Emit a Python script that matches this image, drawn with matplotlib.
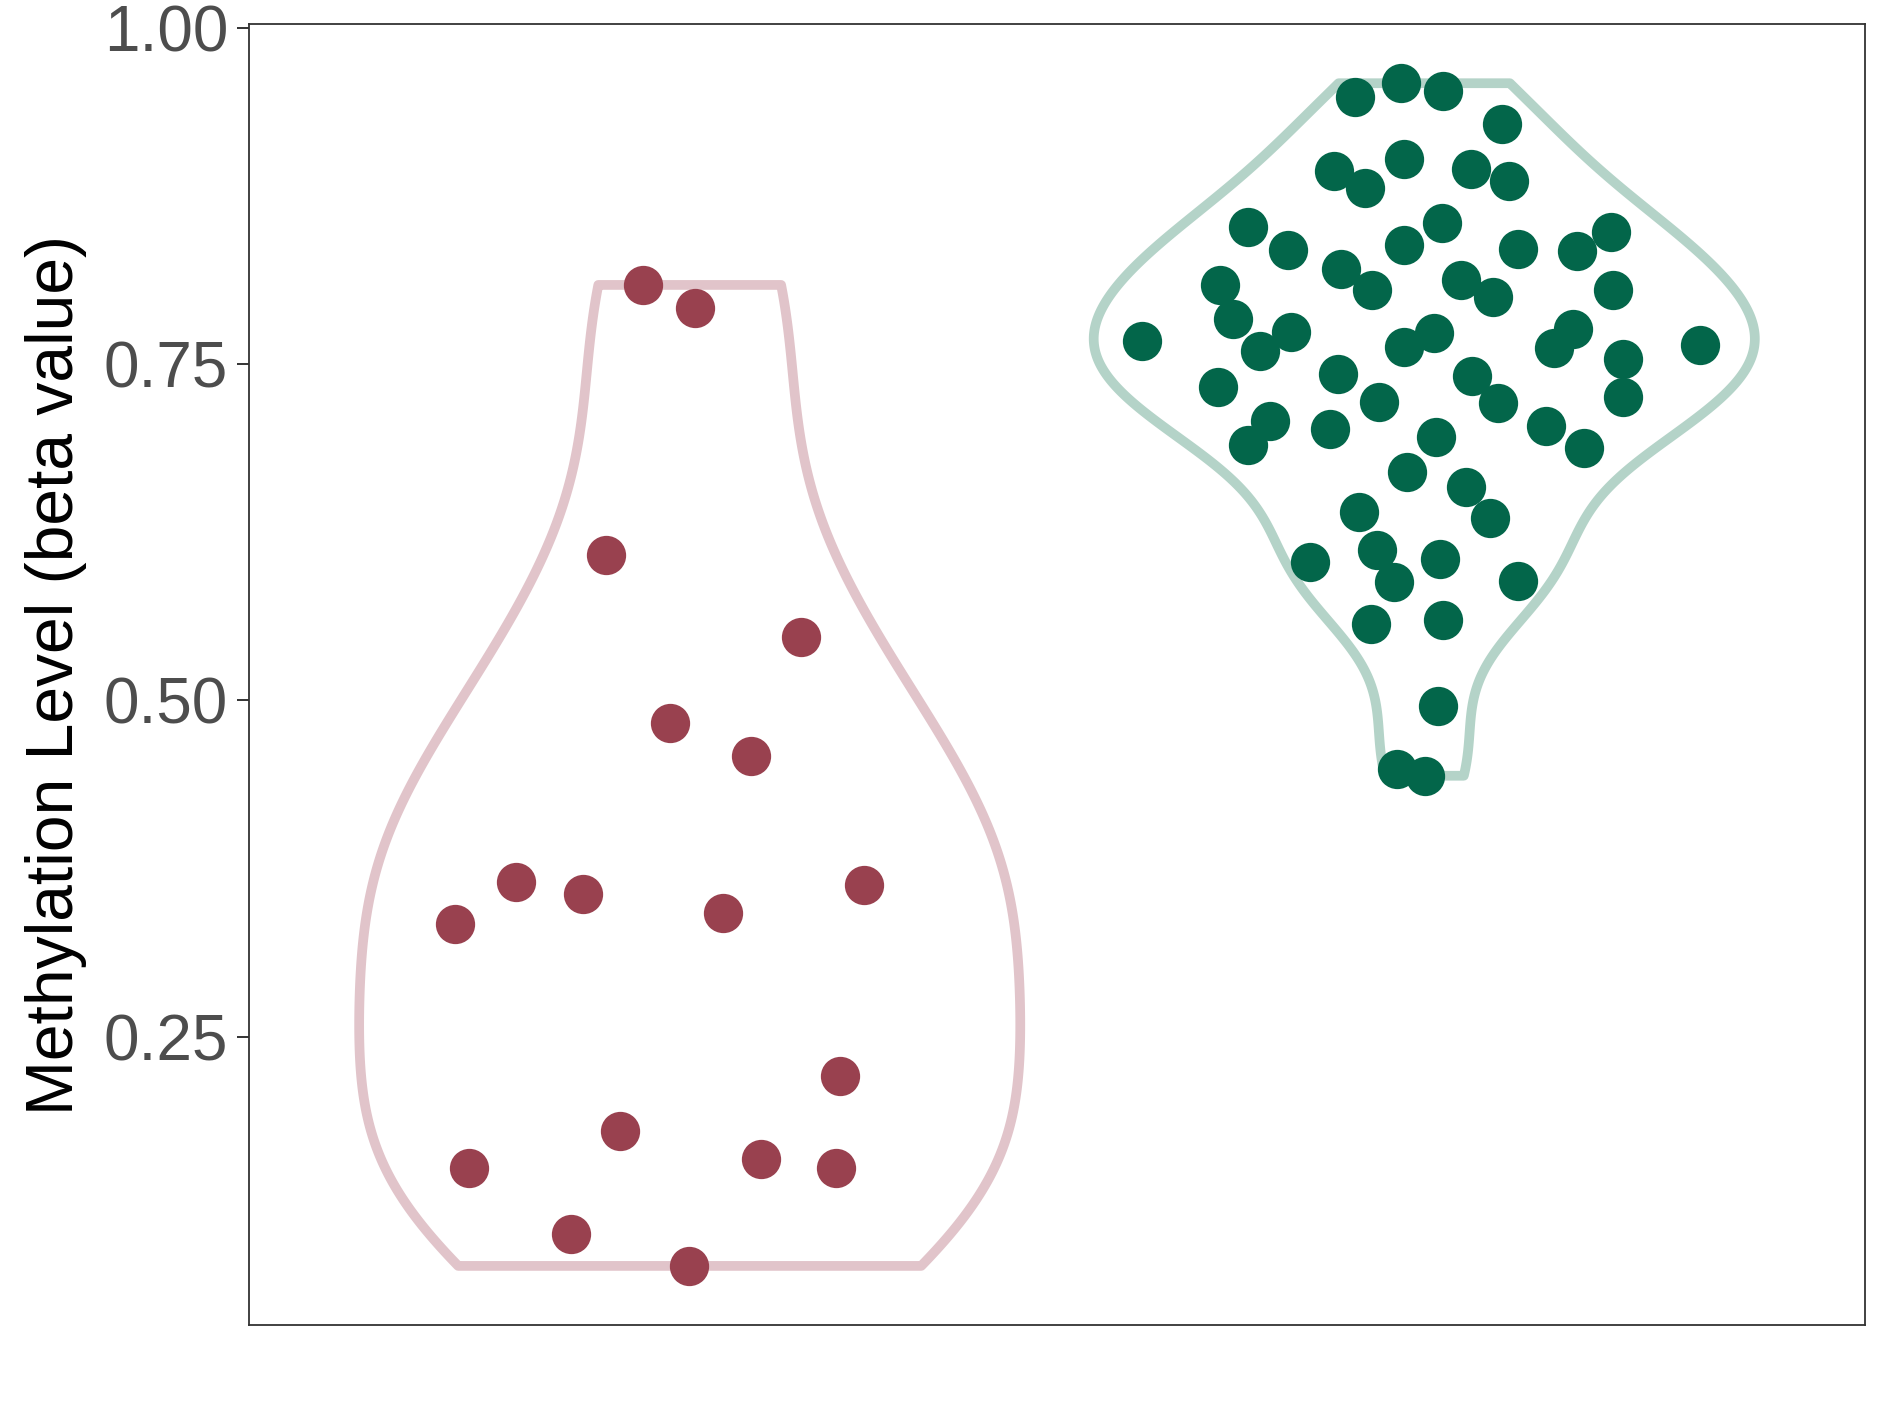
import numpy as np
import matplotlib.pyplot as plt

plt.rcParams['font.family'] = ['Liberation Sans', 'DejaVu Sans']

# group positions on the discrete x axis
positions = [1, 2]

# methylation beta values
red_values = [0.809, 0.792, 0.608, 0.547, 0.483, 0.459, 0.365, 0.356, 0.334,
              0.342, 0.3625, 0.221, 0.180, 0.152, 0.159, 0.152, 0.103, 0.0795]
red_jitter = [-0.063, 0.007, -0.114, 0.151, -0.027, 0.084, -0.237, -0.145, -0.319,
              0.045, 0.237, 0.204, -0.095, -0.300, 0.097, 0.199, -0.162, -0.001]

green_values = [0.949, 0.959, 0.953, 0.929, 0.894, 0.881, 0.903, 0.895, 0.886,
                0.852, 0.835, 0.821, 0.805, 0.839, 0.855, 0.813, 0.800, 0.836,
                0.834, 0.848, 0.805, 0.809, 0.784, 0.760, 0.774, 0.767, 0.733,
                0.743, 0.7625, 0.773, 0.722, 0.741, 0.721, 0.762, 0.776, 0.754,
                0.726, 0.764, 0.690, 0.708, 0.702, 0.696, 0.704, 0.6875, 0.670,
                0.659, 0.640, 0.636, 0.612, 0.588, 0.603, 0.605, 0.589, 0.557,
                0.560, 0.4955, 0.449, 0.444]
green_jitter = [-0.094, -0.032, 0.026, 0.106, -0.123, -0.081, -0.027, 0.064, 0.116,
                -0.240, -0.186, -0.114, -0.071, -0.028, 0.024, 0.050, 0.093, 0.128,
                0.208, 0.254, 0.257, -0.278, -0.260, -0.224, -0.181, -0.384, -0.281,
                -0.117, -0.027, 0.013, -0.061, 0.065, 0.101, 0.177, 0.203, 0.270,
                0.270, 0.375, -0.240, -0.210, -0.128, 0.016, 0.166, 0.217, -0.024,
                0.057, -0.089, 0.090, -0.064, -0.041, -0.155, 0.021, 0.127, -0.073,
                0.026, 0.019, -0.037, 0.001]

point_colors = ['#99414F', '#03664A']
outline_colors = ['#E1C4CA', '#B4D3C8']


def nrd0_factor(kde):
    # R's bw.nrd0, expressed as a factor of the sample std
    x = np.asarray(kde.dataset).ravel()
    sd = np.std(x, ddof=1)
    iqr = np.subtract(*np.percentile(x, [75, 25]))
    bw = 0.9 * min(sd, iqr / 1.34) * len(x) ** -0.2
    return bw / sd


fig = plt.figure(figsize=(18.89, 14.17), dpi=100)
ax = fig.add_axes([0.1318, 0.0649, 0.8555, 0.9181])

vp = ax.violinplot([red_values, green_values], positions=positions, widths=0.9,
                   showextrema=False, points=512, bw_method=nrd0_factor)
for body, col in zip(vp['bodies'], outline_colors):
    body.set_facecolor('none')
    body.set_edgecolor(col)
    body.set_linewidth(7)
    body.set_alpha(1)
    body.set_joinstyle('round')

for pos, vals, jit, col in zip(positions, [red_values, green_values],
                               [red_jitter, green_jitter], point_colors):
    ax.scatter(pos + np.array(jit), vals, s=800, color=col, linewidths=0, zorder=3)

allv = np.array(red_values + green_values)
span = allv.max() - allv.min()
ax.set_ylim(allv.min() - 0.05 * span, allv.max() + 0.05 * span)
ax.set_xlim(0.4, 2.6)

ticks = [0.25, 0.50, 0.75, 1.00]
ax.set_yticks(ticks)
ax.set_yticklabels(['%.2f' % t for t in ticks])
ax.set_xticks([])
ax.tick_params(axis='y', length=9, width=1.4, color='#333333', pad=6,
               labelsize=46, labelcolor='#4D4D4D')
for sp in ax.spines.values():
    sp.set_color('#333333')
    sp.set_linewidth(1.3)

ax.set_ylabel('Methylation Level (beta value)', fontsize=47.5, labelpad=12)

fig.savefig('out.png', dpi=100)
